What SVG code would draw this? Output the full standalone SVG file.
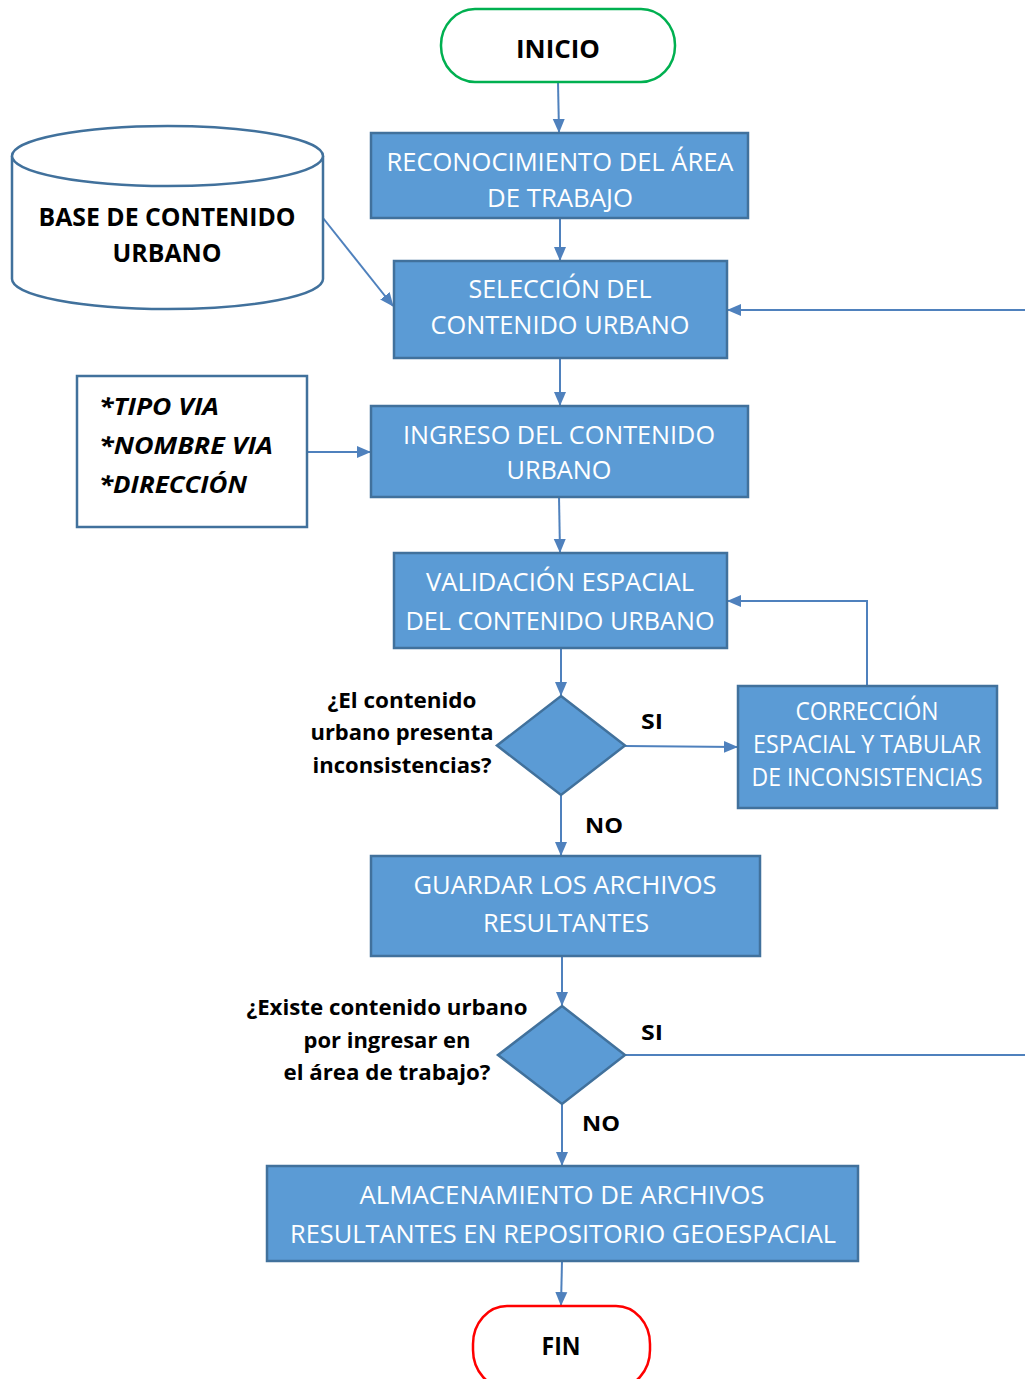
<svg xmlns="http://www.w3.org/2000/svg" width="1025" height="1379" viewBox="0 0 1025 1379">
<style>
.bg{fill:#ffffff}
.proc{fill:#5B9BD5;stroke:#41719C;stroke-width:2.5}
.term{fill:#ffffff;stroke-width:2.5}
.wt{font-family:"Open Sans","Liberation Sans",sans-serif;font-size:25px;fill:#ffffff;text-anchor:middle}
.bt{font-family:"Open Sans","Liberation Sans",sans-serif;font-size:25px;font-weight:bold;fill:#000000;text-anchor:middle}
.lb{font-family:"Open Sans","Liberation Sans",sans-serif;font-size:22px;font-weight:bold;fill:#000000;text-anchor:middle}
.it{font-family:"Open Sans","Liberation Sans",sans-serif;font-size:24px;font-weight:bold;font-style:italic;fill:#000000}
.con{fill:none;stroke:#4F81BD;stroke-width:2}
</style>
<defs>
<marker id="ah" markerUnits="userSpaceOnUse" markerWidth="14" markerHeight="14" viewBox="0 0 14 14" refX="13" refY="7" orient="auto">
<path d="M0,1 L14,7 L0,13 Z" fill="#4F81BD"/>
</marker>
</defs>
<rect class="bg" x="0" y="0" width="1025" height="1379"/>

<g id="connectors">
<line class="con" x1="558" y1="82" x2="559" y2="132" marker-end="url(#ah)"/>
<line class="con" x1="560" y1="218" x2="560" y2="260" marker-end="url(#ah)"/>
<line class="con" x1="323" y1="218" x2="393" y2="306" marker-end="url(#ah)"/>
<line class="con" x1="1025" y1="310" x2="728" y2="310" marker-end="url(#ah)"/>
<line class="con" x1="560" y1="358" x2="560" y2="405" marker-end="url(#ah)"/>
<line class="con" x1="307" y1="452" x2="370" y2="452" marker-end="url(#ah)"/>
<line class="con" x1="559" y1="497" x2="560" y2="552" marker-end="url(#ah)"/>
<line class="con" x1="561" y1="648" x2="561" y2="695" marker-end="url(#ah)"/>
<line class="con" x1="625" y1="746" x2="737" y2="747" marker-end="url(#ah)"/>
<polyline class="con" points="867,686 867,601 728,601" marker-end="url(#ah)"/>
<line class="con" x1="561" y1="795" x2="561" y2="855" marker-end="url(#ah)"/>
<line class="con" x1="562" y1="956" x2="562" y2="1005" marker-end="url(#ah)"/>
<line class="con" x1="625" y1="1055" x2="1025" y2="1055"/>
<line class="con" x1="562" y1="1104" x2="562" y2="1165" marker-end="url(#ah)"/>
<line class="con" x1="562" y1="1261" x2="561" y2="1305" marker-end="url(#ah)"/>
</g>

<g id="inicio">
<rect class="term" x="441" y="9" width="234" height="73" rx="34" ry="36" stroke="#00B050"/>
<text class="bt" x="558" y="58" textLength="84" lengthAdjust="spacingAndGlyphs">INICIO</text>
</g>

<g id="reconocimiento">
<rect class="proc" x="371" y="133" width="377" height="85"/>
<text class="wt" x="560" y="171" textLength="347" lengthAdjust="spacingAndGlyphs">RECONOCIMIENTO DEL ÁREA</text>
<text class="wt" x="560" y="207" textLength="146" lengthAdjust="spacingAndGlyphs">DE TRABAJO</text>
</g>

<g id="base">
<path d="M12,156 L12,279 A155.5,30 0 0 0 323,279 L323,156" fill="#ffffff" stroke="#41719C" stroke-width="2.5"/>
<ellipse cx="167.5" cy="156" rx="155.5" ry="30" fill="#ffffff" stroke="#41719C" stroke-width="2.5"/>
<text class="bt" x="167" y="226" textLength="257" lengthAdjust="spacingAndGlyphs">BASE DE CONTENIDO</text>
<text class="bt" x="167" y="262" textLength="109" lengthAdjust="spacingAndGlyphs">URBANO</text>
</g>

<g id="seleccion">
<rect class="proc" x="394" y="261" width="333" height="97"/>
<text class="wt" x="560" y="298" textLength="183" lengthAdjust="spacingAndGlyphs">SELECCIÓN DEL</text>
<text class="wt" x="560" y="334" textLength="259" lengthAdjust="spacingAndGlyphs">CONTENIDO URBANO</text>
</g>

<g id="atributos">
<rect x="77" y="376" width="230" height="151" fill="#ffffff" stroke="#41719C" stroke-width="2.5"/>
<text class="it" x="99" y="415" textLength="120" lengthAdjust="spacingAndGlyphs">*TIPO VIA</text>
<text class="it" x="99" y="454" textLength="174" lengthAdjust="spacingAndGlyphs">*NOMBRE VIA</text>
<text class="it" x="99" y="493" textLength="148" lengthAdjust="spacingAndGlyphs">*DIRECCIÓN</text>
</g>

<g id="ingreso">
<rect class="proc" x="371" y="406" width="377" height="91"/>
<text class="wt" x="559" y="444" textLength="312" lengthAdjust="spacingAndGlyphs">INGRESO DEL CONTENIDO</text>
<text class="wt" x="559" y="479" textLength="105" lengthAdjust="spacingAndGlyphs">URBANO</text>
</g>

<g id="validacion">
<rect class="proc" x="394" y="553" width="333" height="95"/>
<text class="wt" x="560" y="591" textLength="268" lengthAdjust="spacingAndGlyphs">VALIDACIÓN ESPACIAL</text>
<text class="wt" x="560" y="630" textLength="309" lengthAdjust="spacingAndGlyphs">DEL CONTENIDO URBANO</text>
</g>

<g id="decision1">
<polygon class="proc" points="561,696 625,745.5 561,795 497,745.5"/>
<text class="lb" x="402" y="708" textLength="149" lengthAdjust="spacingAndGlyphs">¿El contenido</text>
<text class="lb" x="402" y="740" textLength="183" lengthAdjust="spacingAndGlyphs">urbano presenta</text>
<text class="lb" x="402" y="773" textLength="179" lengthAdjust="spacingAndGlyphs">inconsistencias?</text>
<text class="lb" x="652" y="729" font-size="23" textLength="22" lengthAdjust="spacingAndGlyphs">SI</text>
<text class="lb" x="604" y="833" font-size="23" textLength="38" lengthAdjust="spacingAndGlyphs">NO</text>
</g>

<g id="correccion">
<rect class="proc" x="738" y="686" width="259" height="122"/>
<text class="wt" x="867" y="720" font-size="23" textLength="143" lengthAdjust="spacingAndGlyphs">CORRECCIÓN</text>
<text class="wt" x="867" y="753" font-size="23" textLength="228" lengthAdjust="spacingAndGlyphs">ESPACIAL Y TABULAR</text>
<text class="wt" x="867" y="786" font-size="23" textLength="231" lengthAdjust="spacingAndGlyphs">DE INCONSISTENCIAS</text>
</g>

<g id="guardar">
<rect class="proc" x="371" y="856" width="389" height="100"/>
<text class="wt" x="565" y="894" textLength="303" lengthAdjust="spacingAndGlyphs">GUARDAR LOS ARCHIVOS</text>
<text class="wt" x="566" y="932" textLength="166" lengthAdjust="spacingAndGlyphs">RESULTANTES</text>
</g>

<g id="decision2">
<polygon class="proc" points="562,1006 625,1055 562,1104 498,1055"/>
<text class="lb" x="387" y="1015" textLength="281" lengthAdjust="spacingAndGlyphs">¿Existe contenido urbano</text>
<text class="lb" x="387" y="1048" textLength="167" lengthAdjust="spacingAndGlyphs">por ingresar en</text>
<text class="lb" x="387" y="1080" textLength="207" lengthAdjust="spacingAndGlyphs">el área de trabajo?</text>
<text class="lb" x="652" y="1040" font-size="23" textLength="22" lengthAdjust="spacingAndGlyphs">SI</text>
<text class="lb" x="601" y="1131" font-size="23" textLength="38" lengthAdjust="spacingAndGlyphs">NO</text>
</g>

<g id="almacenamiento">
<rect class="proc" x="267" y="1166" width="591" height="95"/>
<text class="wt" x="562" y="1204" textLength="405" lengthAdjust="spacingAndGlyphs">ALMACENAMIENTO DE ARCHIVOS</text>
<text class="wt" x="563" y="1243" textLength="546" lengthAdjust="spacingAndGlyphs">RESULTANTES EN REPOSITORIO GEOESPACIAL</text>
</g>

<g id="fin">
<rect class="term" x="473" y="1306" width="177" height="82" rx="34" ry="38" stroke="#FF0000"/>
<text class="bt" x="561" y="1355" textLength="39" lengthAdjust="spacingAndGlyphs">FIN</text>
</g>
</svg>
